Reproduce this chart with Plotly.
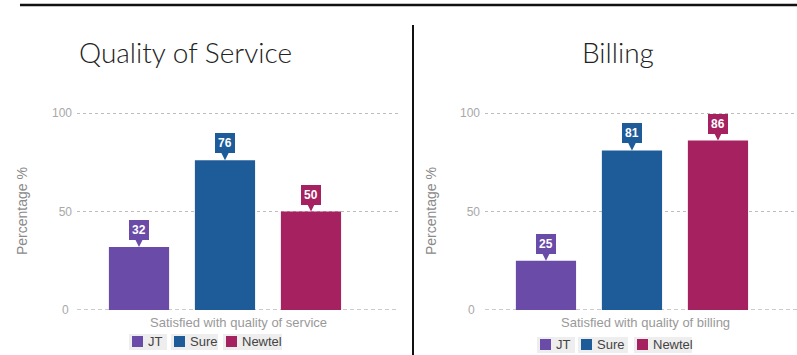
import plotly.graph_objects as go

# ---- data ----
operators = ["JT", "Sure", "Newtel"]
colors = ["#6a4ba8", "#1e5c99", "#a62160"]
service_values = [32, 76, 50]
billing_values = [25, 81, 86]
titles = ["Quality of Service", "Billing"]
x_titles = ["Satisfied with quality of service", "Satisfied with quality of billing"]
y_title = "Percentage %"
y_ticks = [0, 50, 100]

W, H = 797, 355
fig = go.Figure()

fig.add_trace(go.Bar(x=operators, y=service_values, marker=dict(color=colors, line=dict(width=0)),
                     xaxis="x", yaxis="y", showlegend=False, hoverinfo="x+y"))
fig.add_trace(go.Bar(x=operators, y=billing_values, marker=dict(color=colors, line=dict(width=0)),
                     xaxis="x2", yaxis="y2", showlegend=False, hoverinfo="x+y"))

YMAX = 102
ydom = [1 - 310 / H, 1 - (310 - 1.97 * YMAX) / H]
tickfont = dict(family="Liberation Sans, Arial", size=12, color="#a8a8a8")
ytitlefont = dict(family="Liberation Sans, Arial", size=14, color="#8a8a8a")

def yaxis(anchor):
    return dict(domain=ydom, range=[0, YMAX], tickvals=y_ticks[1:], tickfont=tickfont,
                showgrid=True, gridcolor="#bdbdbd", griddash="dot", gridwidth=1,
                zeroline=False, showline=False, ticks="", anchor=anchor, fixedrange=True,
                automargin=False, ticklabelstandoff=4)

def xaxis(dom, rng, anchor):
    return dict(domain=dom, range=rng, type="category", showticklabels=False, ticks="",
                showgrid=False, zeroline=False, showline=False, anchor=anchor, fixedrange=True,
                automargin=False)

fig.update_layout(
    width=W, height=H,
    margin=dict(l=0, r=0, t=0, b=0, pad=0),
    paper_bgcolor="white", plot_bgcolor="white",
    bargap=0.30,
    xaxis=xaxis([77 / W, 398 / W], [-0.721, 3.012], "y"),
    yaxis=yaxis("x"),
    xaxis2=xaxis([485 / W, 1.0], [-0.709, 2.919], "y2"),
    yaxis2=yaxis("x2"),
)

ann = []
# dashed zero baseline with its "0" label
for xa, ya, xlab in [("x", "y", 71), ("x2", "y2", 477)]:
    fig.add_shape(type="line", xref=f"{xa} domain", yref=ya, x0=0, x1=1, y0=y_ticks[0], y1=y_ticks[0],
                  line=dict(color="#999999", width=1, dash="4px,3px"), layer="below")
    ann.append(dict(x=xlab / W, y=y_ticks[0], xref="paper", yref=ya, text=str(y_ticks[0]), showarrow=False,
                    xanchor="right", yanchor="middle", font=tickfont))

# callouts
for xa, ya, vals in [("x", "y", service_values), ("x2", "y2", billing_values)]:
    for op, v, c in zip(operators, vals, colors):
        ann.append(dict(x=op, y=v, xref=xa, yref=ya, text=f"<b>{v}</b>",
                        font=dict(family="Liberation Sans, Arial", size=12, color="white"),
                        bgcolor=c, bordercolor=c, borderpad=2, borderwidth=1,
                        showarrow=True, ax=0, ay=-17, axref="pixel", ayref="pixel",
                        arrowhead=2, arrowsize=1, arrowwidth=1.5, arrowcolor=c, standoff=0))

# titles
tfont = dict(family="Lato", size=28, color="#222222", weight=300)
ann.append(dict(x=77 / W, y=1 - 52 / H, xref="paper", yref="paper", text=titles[0], showarrow=False,
                xanchor="left", yanchor="middle", font=tfont))
ann.append(dict(x=617.5 / W, y=1 - 52 / H, xref="paper", yref="paper", text=titles[1], showarrow=False,
                xanchor="center", yanchor="middle", font=tfont))

# y titles
for xp in [22, 431]:
    ann.append(dict(x=xp / W, y=1 - 211 / H, xref="paper", yref="paper", text=y_title, showarrow=False,
                    textangle=-90, xanchor="center", yanchor="middle", font=ytitlefont))

# x titles
for xp, t in [(238, x_titles[0]), (645, x_titles[1])]:
    ann.append(dict(x=xp / W, y=1 - 322 / H, xref="paper", yref="paper", text=t, showarrow=False,
                    xanchor="center", yanchor="middle",
                    font=dict(family="Liberation Sans, Arial", size=13, color="#999999")))

# custom legends (boxed items): (box left, box right) per item, and vertical centre
legend_boxes = [([(129, 167), (171, 218), (223, 282)], 341.5),
                ([(537, 575), (578, 628), (634, 692)], 344.5)]
for boxes, yc in legend_boxes:
    yp = 1 - yc / H
    for (x0, x1), op, c in zip(boxes, operators, colors):
        ann.append(dict(x=(x0 + x1) / 2 / W, y=yp, xref="paper", yref="paper", text=" ",
                        width=x1 - x0, height=16, showarrow=False, xanchor="center", yanchor="middle",
                        bgcolor="#eeeeee", borderpad=0, borderwidth=0))
        ann.append(dict(x=(x0 + 2.5 + 5.5) / W, y=yp, xref="paper", yref="paper", text=" ",
                        width=11, height=11, showarrow=False, xanchor="center", yanchor="middle",
                        bgcolor=c, borderpad=0, borderwidth=0))
        ann.append(dict(x=(x0 + 17) / W, y=yp, xref="paper", yref="paper", text=op,
                        showarrow=False, xanchor="left", yanchor="middle",
                        font=dict(family="Liberation Sans, Arial", size=13, color="#444444")))

fig.update_layout(annotations=ann)

# frame lines
fig.add_shape(type="line", xref="paper", yref="paper", x0=20 / W, x1=1, y0=1 - 5 / H, y1=1 - 5 / H,
              line=dict(color="#111111", width=2.5))
fig.add_shape(type="line", xref="paper", yref="paper", x0=413 / W, x1=413 / W, y0=1 - 25 / H, y1=0,
              line=dict(color="#111111", width=2))

fig.write_html("out.html")
